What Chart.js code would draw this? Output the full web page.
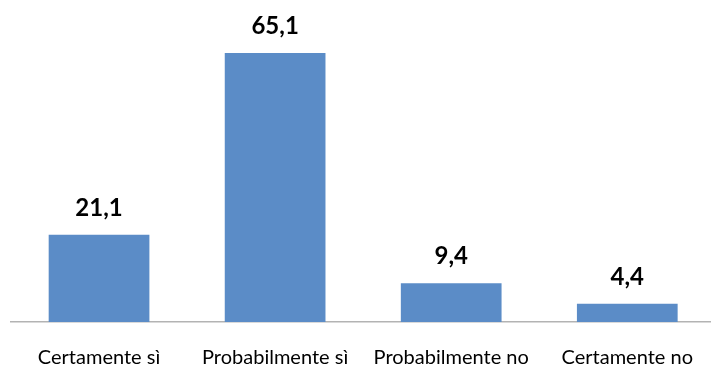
<!DOCTYPE html>
<html><head><meta charset="utf-8">
<script src="https://cdn.jsdelivr.net/npm/chart.js@4"></script>
<style>html,body{margin:0;padding:0;overflow:hidden;background:#fff}#wrap{width:717px;height:366px;position:relative}</style>
</head><body><div id="wrap"><canvas id="c"></canvas></div>
<script>
const categories = ["Certamente sì", "Probabilmente sì", "Probabilmente no", "Certamente no"];
const values = [21.1, 65.1, 9.4, 4.4];
const valueLabels = ["21,1", "65,1", "9,4", "4,4"];

const labelPlugin = {
  id: 'valLabels',
  afterDatasetsDraw(chart) {
    const ctx = chart.ctx;
    const meta = chart.getDatasetMeta(0);
    ctx.save();
    ctx.font = 'bold 24px Lato, "Open Sans", sans-serif';
    ctx.fillStyle = '#000';
    ctx.textAlign = 'center';
    ctx.textBaseline = 'alphabetic';
    meta.data.forEach((bar, i) => {
      ctx.fillText(valueLabels[i], bar.x, bar.y - 19);
    });
    ctx.restore();
  }
};

new Chart(document.getElementById('c'), {
  type: 'bar',
  data: { labels: categories, datasets: [{ data: values, backgroundColor: '#5B8CC7', barPercentage: 0.572, categoryPercentage: 1 }] },
  options: {
    responsive: true, maintainAspectRatio: false, animation: false,
    layout: { padding: { left: 11, right: 0, top: 12, bottom: 0 } },
    plugins: { legend: { display: false }, tooltip: { enabled: false } },
    scales: {
      x: {
        afterFit(scale) { scale.height = 44; },
        grid: { display: false, drawTicks: false },
        border: { display: true, color: '#b3b3b3', width: 1.5 },
        ticks: { color: '#000', font: { family: 'Lato, "Open Sans", sans-serif', size: 20 }, padding: 24, maxRotation: 0 }
      },
      y: { display: false, min: 0, max: 75 }
    }
  },
  plugins: [labelPlugin]
});
</script></body></html>
